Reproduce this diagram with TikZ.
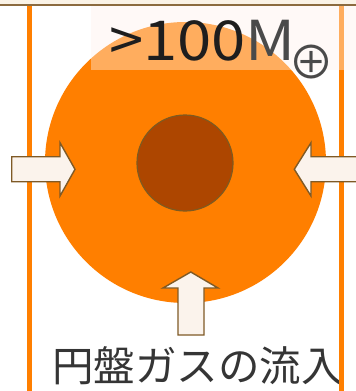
\documentclass[tikz,border=0pt]{standalone}
\usepackage{fontspec}
\newfontfamily\jpfont{Noto Sans CJK JP}
\newfontfamily\widefont[FakeStretch=1.12]{Noto Sans CJK JP}
\definecolor{diskorange}{HTML}{FF7F00}
\definecolor{coredark}{HTML}{AD4600}
\definecolor{corerim}{HTML}{7F5A20}
\definecolor{arrowfill}{HTML}{FBF3EC}
\definecolor{arrowrim}{HTML}{7F5A26}
\definecolor{topbeige}{HTML}{FBF3E6}
\definecolor{topline}{HTML}{8C6B3F}
\definecolor{veil}{HTML}{FFF2EB}
\definecolor{txtdark}{HTML}{1E1E1E}
\definecolor{txtgray}{HTML}{4A4A4A}
\tikzset{
  flowarrow/.style={fill=arrowfill, draw=arrowrim, line width=1.4pt, line join=miter},
  frameline/.style={draw=diskorange, line width=5pt},
}
\begin{document}
\begin{tikzpicture}[x=1pt,y=-1pt]
\useasboundingbox (0,0) rectangle (356,391);
\begin{scope}
\clip (0,0) rectangle (356,391);
\fill[white] (0,0) rectangle (356,391);
% top strip
\fill[topbeige] (0,0) rectangle (356,4.5);
\draw[topline, line width=1.6pt] (0,5) -- (356,5);
% disk and core
\node[circle, fill=diskorange, minimum size=281pt, inner sep=0pt] (disk) at (185.5,162.5) {};
\node[circle, fill=coredark, draw=corerim, line width=1.2pt, minimum size=96pt, inner sep=0pt] (core) at (185,163) {};
% bottom label
\node[font=\jpfont\fontsize{41.5}{41.5}\selectfont, text=txtdark!90, anchor=center, inner sep=0pt] (inflow) at (197.5,366) {円盤ガスの流入};
% frame lines
\coordinate (lt) at (29,6); \coordinate (lb) at (29,391);
\coordinate (rt) at (341.8,6); \coordinate (rb) at (341.8,391);
\draw[frameline] (lt) -- (lb);
\draw[frameline] (rt) -- (rb);
% arrows
\draw[flowarrow] (11.7,156.7) -- (60,156.7) -- (60,142.7) -- (75,169.3) -- (60,196) -- (60,181.7) -- (11.7,181.7) -- cycle;
\draw[flowarrow] (370,156.7) -- (311,156.7) -- (311,142.7) -- (294.3,169.3) -- (311,196) -- (311,181.7) -- (370,181.7) -- cycle;
\draw[flowarrow] (178,335) -- (178,288) -- (163,288) -- (190.8,272) -- (218,288) -- (204,288) -- (204,335) -- cycle;
% top veil
\fill[veil, opacity=0.4] (91,6) rectangle (356,70);
% mass label
\node[font=\widefont\fontsize{55}{55}\selectfont, anchor=base west, inner sep=0pt] (mass) at (109,60) {\textcolor{txtdark}{>100}\textcolor{txtgray}{M}};
\node[text=txtgray, anchor=center, inner sep=0pt, font=\jpfont\fontsize{46}{46}\selectfont] (earth) at (311.5,62.5) {⊕};
\end{scope}
\end{tikzpicture}
\end{document}
